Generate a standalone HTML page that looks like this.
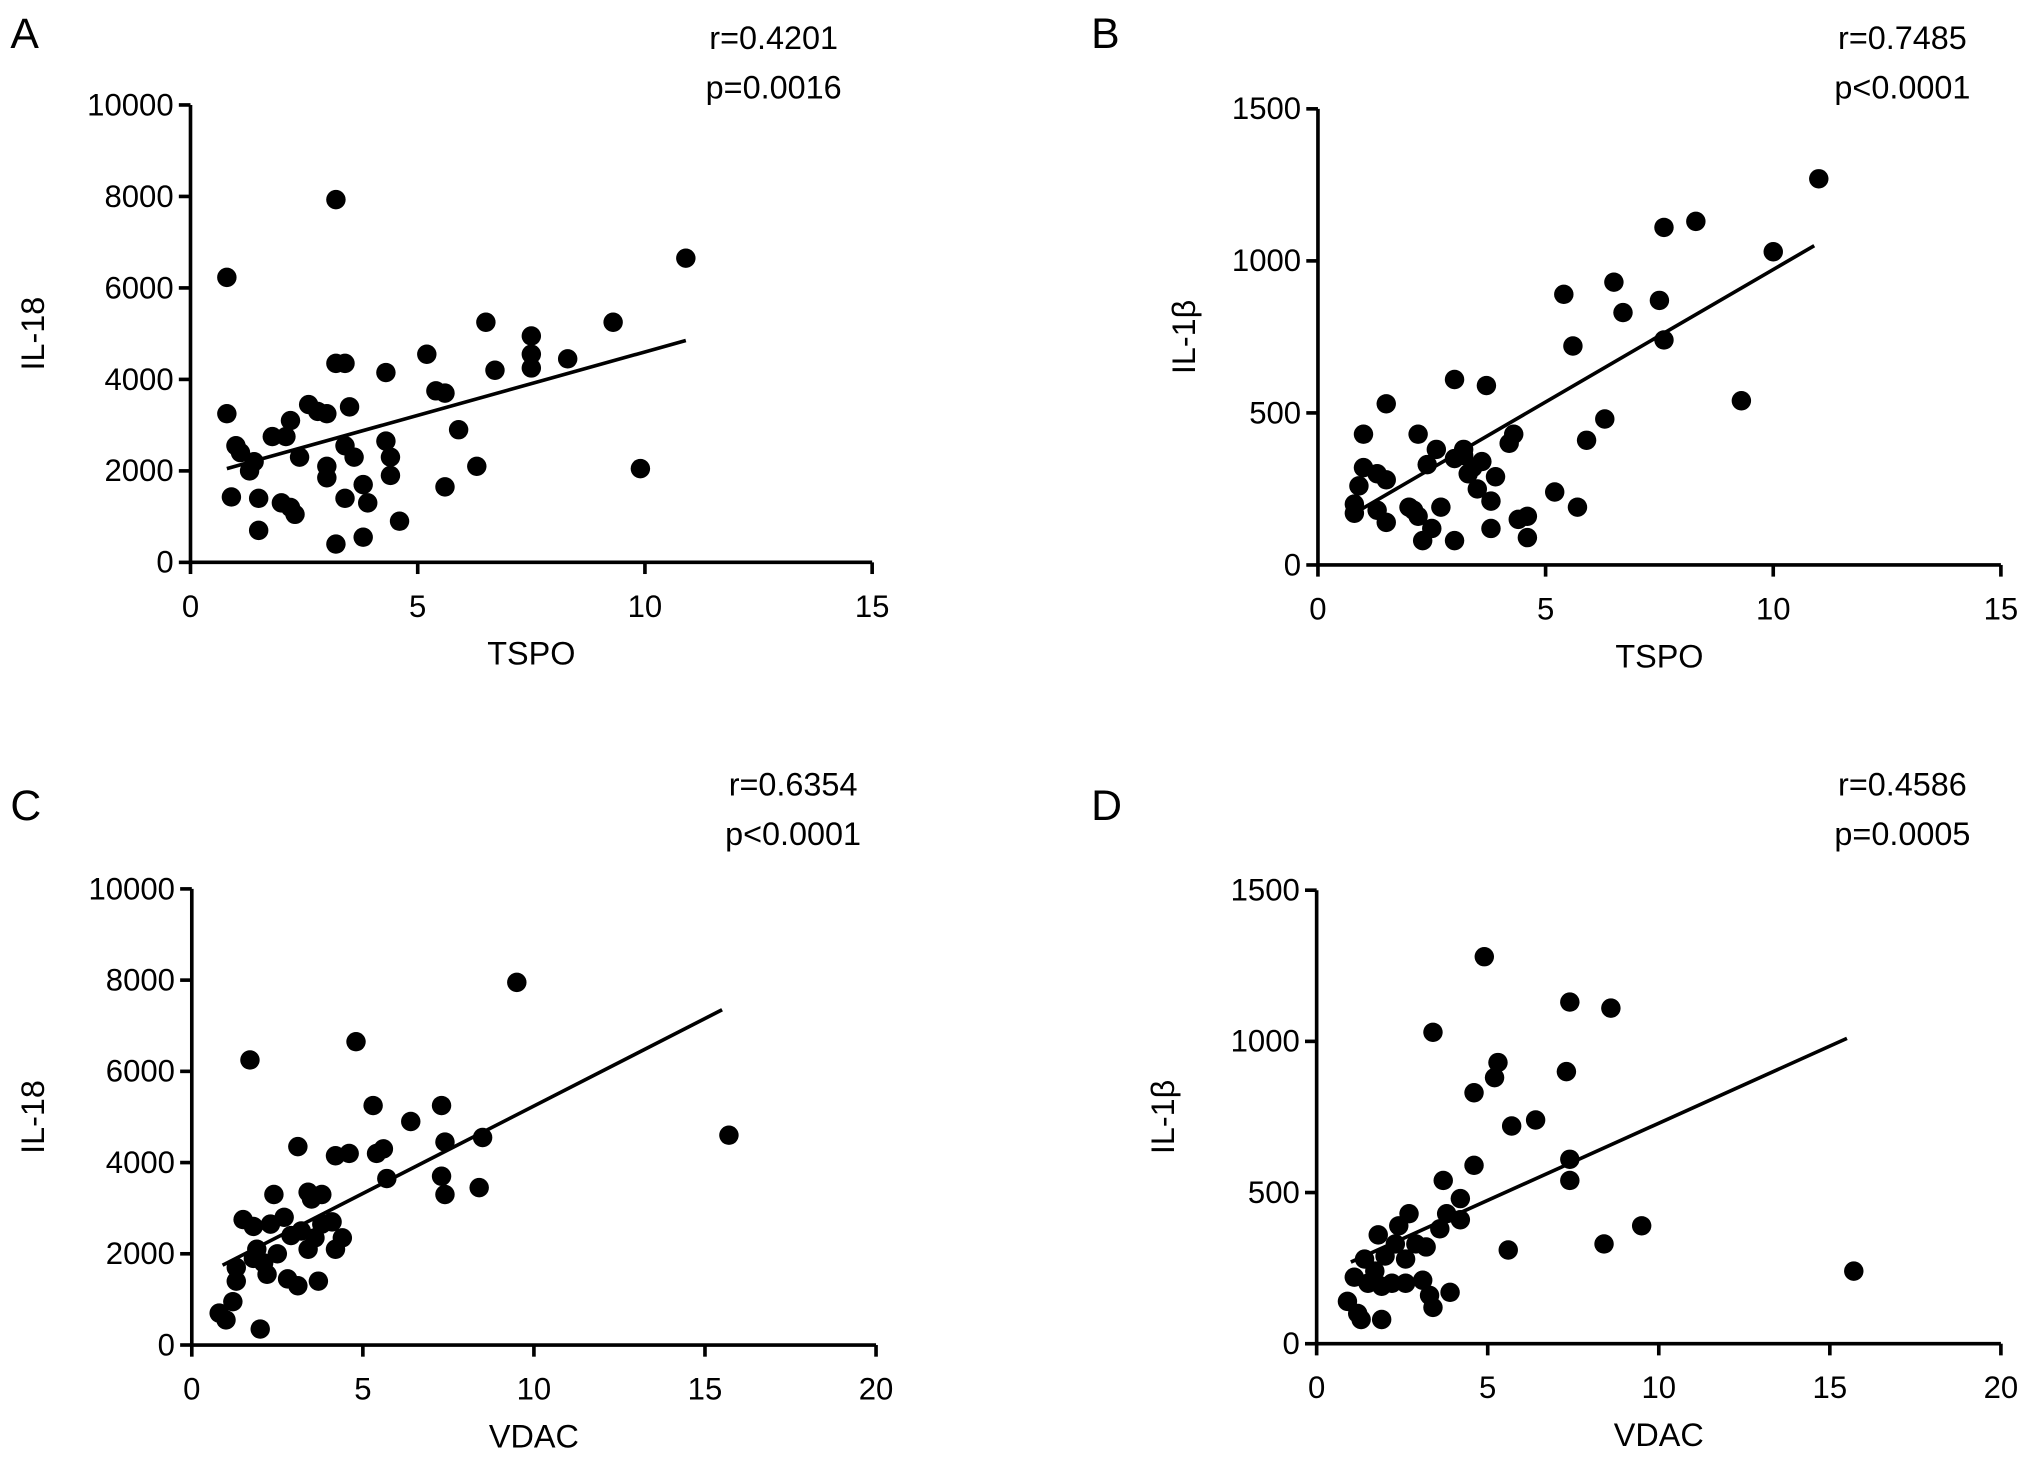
<!DOCTYPE html>
<html><head><meta charset="utf-8"><style>
html,body{margin:0;padding:0;background:#fff;}
svg{display:block;font-family:"Liberation Sans",Arial,sans-serif;}
</style></head><body>
<svg id="fig" width="2032" height="1472" viewBox="0 0 1568 1136" preserveAspectRatio="none"></svg>
<script>
const aX=[0.8,3.2,10.9,0.8,0.9,1.0,1.1,1.3,1.4,1.5,1.5,1.8,2.0,2.1,2.2,2.3,2.2,2.4,2.6,2.8,3.0,3.0,3.0,3.2,3.2,3.4,3.4,3.4,3.5,3.6,3.8,3.8,3.9,4.3,4.3,4.4,4.4,4.6,5.2,5.4,5.6,5.6,5.9,6.3,6.5,6.7,7.5,7.5,7.5,8.3,9.3,9.9];
const aY=[6230,7930,6650,3250,1430,2550,2400,2000,2200,1400,700,2750,1300,2750,1200,1050,3100,2300,3450,3300,3250,2100,1850,400,4350,4350,1400,2550,3400,2300,1700,550,1300,2650,4150,1900,2300,900,4550,3750,3700,1650,2900,2100,5250,4200,4250,4550,4950,4450,5250,2050];
const aLine=[[0.8,2050],[10.9,4850]];
const bX=[0.8,0.8,0.9,1.0,1.0,1.3,1.3,1.5,1.5,1.5,2.0,2.1,2.2,2.2,2.3,2.4,2.5,2.6,2.7,3.0,3.0,3.0,3.2,3.2,3.3,3.4,3.5,3.6,3.7,3.8,3.8,3.9,4.2,4.3,4.4,4.6,4.6,5.2,5.4,5.6,5.7,5.9,6.3,6.5,6.7,7.5,7.6,7.6,8.3,9.3,10.0,11.0];
const bY=[170,200,260,430,320,300,180,530,280,140,190,180,430,160,80,330,120,380,190,610,80,350,380,360,300,320,250,340,590,210,120,290,400,430,150,160,90,240,890,720,190,410,480,930,830,870,1110,740,1130,540,1030,1270];
const bLine=[[0.8,170],[10.9,1050]];
const cX=[0.8,1.0,1.2,1.3,1.3,1.5,1.7,1.8,1.8,1.9,2.0,2.1,2.2,2.3,2.4,2.5,2.7,2.8,2.9,3.1,3.1,3.2,3.4,3.4,3.5,3.6,3.7,3.8,3.8,4.1,4.2,4.2,4.4,4.6,4.8,5.3,5.4,5.6,5.7,6.4,7.3,7.3,7.4,7.4,8.4,8.5,9.5,15.7];
const cY=[700,550,950,1400,1700,2750,6250,1900,2600,2100,350,1800,1550,2650,3300,2000,2800,1450,2400,1300,4350,2500,2100,3350,3200,2350,1400,2650,3300,2700,4150,2100,2350,4200,6650,5250,4200,4300,3650,4900,5250,3700,4450,3300,3450,4550,7950,4600];
const cLine=[[0.9,1750],[15.5,7350]];
const dX=[0.9,1.1,1.2,1.3,1.4,1.5,1.7,1.8,1.9,1.9,2.0,2.2,2.3,2.4,2.6,2.6,2.7,2.9,3.1,3.2,3.3,3.4,3.4,3.6,3.7,3.8,3.9,4.2,4.2,4.6,4.6,4.9,5.2,5.3,5.6,5.7,6.4,7.3,7.4,7.4,7.4,8.4,8.6,9.5,15.7];
const dY=[140,220,100,80,280,200,240,360,190,80,290,200,330,390,280,200,430,330,210,320,160,1030,120,380,540,430,170,410,480,830,590,1280,880,930,310,720,740,900,1130,610,540,330,1110,390,240];
const dLine=[[1.0,270],[15.5,1010]];
const aXTicks=[0,5,10,15], aYTicks=[0,2000,4000,6000,8000,10000];
const bXTicks=[0,5,10,15], bYTicks=[0,500,1000,1500];
const cXTicks=[0,5,10,15,20], cYTicks=[0,2000,4000,6000,8000,10000];
const dXTicks=[0,5,10,15,20], dYTicks=[0,500,1000,1500];

const NS="http://www.w3.org/2000/svg";
const svg=document.getElementById('fig');
function mk(tag,attrs,parent,text){const e=document.createElementNS(NS,tag);for(const k in attrs)e.setAttribute(k,attrs[k]);if(text!==undefined)e.textContent=text;(parent||svg).appendChild(e);return e;}

function panel(p){
  const g=mk('g',{});
  
  
  const sx=v=>p.x0+(v-p.xmin)/(p.xmax-p.xmin)*(p.x1-p.x0);
  const sy=v=>p.y0-(v-p.ymin)/(p.ymax-p.ymin)*(p.y0-p.y1);
  const lbl=mk('text',{x:p.lx,y:p.ly,'font-size':33},g,p.id);
  
  
  const ax=mk('g',{stroke:'#000','stroke-width':2.8,fill:'none'},g);
  
  
  mk('line',{x1:p.x0,y1:p.y0,x2:p.x1,y2:p.y0},ax);
  mk('line',{x1:p.x0,y1:p.y0,x2:p.x0,y2:p.y1},ax);
  p.xt.forEach(t=>{
    mk('line',{x1:sx(t),y1:p.y0,x2:sx(t),y2:p.y0+9},ax);
    const tx=mk('text',{x:sx(t),y:p.y0+42,'font-size':24,'text-anchor':'middle'},g,t);
    
    
  });
  p.yt.forEach(t=>{
    mk('line',{x1:p.x0-9,y1:sy(t),x2:p.x0,y2:sy(t)},ax);
    const tx=mk('text',{x:p.x0-13,y:sy(t)+8,'font-size':24,'text-anchor':'end'},g,t);
    
    
  });
  const xt=mk('text',{x:(p.x0+p.x1)/2,y:p.y0+79,'font-size':25,'text-anchor':'middle'},g,p.xlab);
  
  
  const yt=mk('text',{x:0,y:0,'font-size':25,'text-anchor':'middle',transform:`translate(${p.ylx},${(p.y0+p.y1)/2}) rotate(-90)`},g,p.ylab);
  
  
  const r=mk('text',{x:p.sx,y:p.sy,'font-size':25,'text-anchor':'middle'},g,p.r);
  
  
  const pv=mk('text',{x:p.sx,y:p.sy+38,'font-size':25,'text-anchor':'middle'},g,p.p);
  
  
  p.xs.forEach((v,i)=>{
    const c=mk('circle',{cx:sx(v),cy:sy(p.ys[i]),r:7.5,fill:'#000'},g);
    
    
  });
  const ln=mk('line',{x1:sx(p.line[0][0]),y1:sy(p.line[0][1]),x2:sx(p.line[1][0]),y2:sy(p.line[1][1]),stroke:'#000','stroke-width':2.8},g);
  
  
}
panel({id:'A',lx:8,ly:37,x0:147,x1:673,y0:434,y1:81,xmin:0,xmax:15,ymin:0,ymax:10000,xt:aXTicks,yt:aYTicks,xs:aX,ys:aY,line:aLine,xlab:'TSPO',ylab:'IL-18',ylx:34,sx:597,sy:38,r:'r=0.4201',p:'p=0.0016'});
panel({id:'B',lx:842,ly:37,x0:1017,x1:1544,y0:436,y1:84,xmin:0,xmax:15,ymin:0,ymax:1500,xt:bXTicks,yt:bYTicks,xs:bX,ys:bY,line:bLine,xlab:'TSPO',ylab:'IL-1β',ylx:922,sx:1468,sy:38,r:'r=0.7485',p:'p<0.0001'});
panel({id:'C',lx:8,ly:633,x0:148,x1:676,y0:1038,y1:686,xmin:0,xmax:20,ymin:0,ymax:10000,xt:cXTicks,yt:cYTicks,xs:cX,ys:cY,line:cLine,xlab:'VDAC',ylab:'IL-18',ylx:34,sx:612,sy:614,r:'r=0.6354',p:'p<0.0001'});
panel({id:'D',lx:842,ly:633,x0:1016,x1:1544,y0:1037,y1:687,xmin:0,xmax:20,ymin:0,ymax:1500,xt:dXTicks,yt:dYTicks,xs:dX,ys:dY,line:dLine,xlab:'VDAC',ylab:'IL-1β',ylx:906,sx:1468,sy:614,r:'r=0.4586',p:'p=0.0005'});
</script>
</body></html>
